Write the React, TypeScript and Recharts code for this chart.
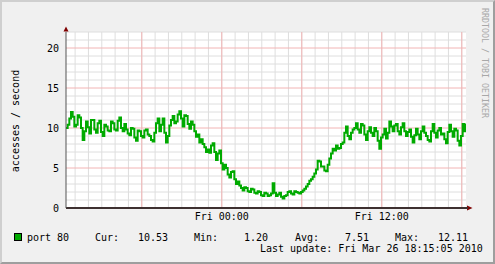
import React from "react";
import { LineChart, Line, XAxis, YAxis, ReferenceLine, ReferenceArea } from "recharts";

// accesses per second, one sample per 7.5 minutes, starting Thu 12:19
const port80 = [
  10.0, 10.4, 11.2, 12.0, 11.4, 10.2, 10.4, 11.6, 11.3, 10.0,
  8.5, 9.6, 10.8, 10.1, 9.3, 11.0, 11.0, 9.8, 9.4, 10.6,
  10.9, 9.5, 9.0, 10.4, 10.2, 9.7, 9.6, 10.8, 10.6, 9.8,
  9.7, 10.9, 11.3, 10.0, 9.6, 10.5, 9.8, 9.3, 9.1, 10.0,
  9.9, 8.8, 8.4, 9.7, 9.6, 9.0, 8.8, 9.7, 9.8, 9.2,
  9.0, 8.5, 8.3, 9.4, 10.6, 11.2, 9.6, 10.4, 11.2, 9.4,
  8.2, 9.0, 10.3, 11.0, 11.5, 10.6, 10.8, 11.7, 12.1, 11.2,
  10.2, 11.6, 11.5, 10.5, 9.9, 10.8, 10.4, 9.6, 8.9, 9.2,
  8.2, 8.6, 8.0, 7.6, 7.0, 7.3, 6.9, 7.8, 8.1, 7.0,
  6.0, 6.8, 7.2, 5.6, 4.8, 5.4, 5.0, 4.2, 3.8, 4.5,
  4.6, 3.6, 3.0, 3.3, 2.8, 2.5, 2.2, 2.6, 2.5, 2.1,
  2.0, 2.4, 2.3, 1.9, 1.8, 2.1, 2.0, 1.6, 1.5, 1.9,
  1.8, 1.5, 1.6, 1.8, 3.1, 1.9, 1.5, 1.7, 1.9, 1.4,
  1.2, 1.5, 1.6, 2.0, 2.1, 1.8, 1.7, 2.1, 2.0, 1.9,
  1.8, 2.0, 2.2, 2.4, 2.7, 3.0, 3.4, 3.6, 3.9, 4.3,
  4.8, 5.9, 5.8, 5.2, 5.2, 4.7, 4.6, 5.4, 6.2, 6.8,
  7.4, 7.2, 7.8, 7.4, 7.5, 8.0, 8.2, 9.4, 10.2, 9.0,
  8.6, 9.4, 9.8, 10.0, 10.6, 9.8, 9.4, 10.5, 10.3, 9.2,
  8.5, 9.6, 10.1, 9.4, 9.0, 10.0, 9.6, 8.4, 7.4, 8.8,
  9.2, 9.9, 8.7, 9.4, 10.8, 10.2, 9.6, 10.3, 10.5, 9.6,
  9.2, 10.1, 10.6, 9.6, 9.0, 9.5, 9.8, 8.9, 8.2, 9.1,
  9.9, 9.2, 8.6, 9.6, 10.2, 9.4, 9.0, 8.5, 8.3, 9.6,
  10.5, 9.4, 8.8, 9.7, 10.0, 9.2, 9.3, 8.6, 8.1, 9.5,
  10.4, 9.6, 8.9, 9.9, 9.7, 8.4, 7.8, 9.0, 10.5, 9.6,
  10.53,
];
const sampleHours = port80.map((_, i) => i * 0.125);

const xTickHours = [11 + 41 / 60, 23 + 41 / 60];
const xTickLabels = ["Fri 00:00", "Fri 12:00"];
const yTicks = [0, 5, 10, 15, 20];
const minorY = [1, 2, 3, 4, 6, 7, 8, 9, 11, 12, 13, 14, 16, 17, 18, 19, 21, 22];
const majorY = [5, 10, 15, 20];
const hourLines = Array.from({ length: 30 }, (_, k) => 41 / 60 + k);
const majorHourLines = [5, 11, 17, 23, 29].map((k) => 41 / 60 + k);

const seriesName = "port 80";
const statLabels = ["Cur:", "Min:", "Avg:", "Max:"];
const statValues = ["10.53", "1.20", "7.51", "12.11"];
const lastUpdate = "Last update: Fri Mar 26 18:15:05 2010";
const yTitle = "accesses / second";
const credit = "RRDTOOL / TOBI OETIKER";

const data = sampleHours.map((h, i) => ({ h, v: port80[i] }));

const FONT = "'DejaVu Sans Mono', monospace";
const GREEN = "#00aa00";

export default function App() {
  const statLabelX = [95, 194, 295, 395];
  const statValueX = [138, 244, 345, 438];
  return (
    <div style={{ position: "absolute", left: 0, top: 0, width: 495, height: 264, background: "#f0f0f0", overflow: "hidden" }}>
      <div
        style={{
          position: "absolute", left: 0, top: 0, width: 495, height: 264, boxSizing: "border-box",
          borderTop: "2px solid #cfcfcf", borderLeft: "2px solid #cfcfcf",
          borderRight: "2px solid #9e9e9e", borderBottom: "2px solid #9e9e9e",
        }}
      />
      <div style={{ position: "absolute", left: 0, top: 0 }}>
        <LineChart width={495} height={264} data={data} margin={{ top: 32, right: 29, bottom: 36, left: 0 }}>
          <XAxis
            dataKey="h"
            type="number"
            domain={[0, 30]}
            ticks={xTickHours}
            tickFormatter={(v: number) => xTickLabels[xTickHours.findIndex((t) => Math.abs(t - v) < 1e-6)] ?? ""}
            tickLine={false}
            tickSize={4}
            tickMargin={1}
            height={20}
            axisLine={{ stroke: "#3d3030", strokeWidth: 2 }}
            tick={{ fontFamily: FONT, fontSize: 10, fill: "#000" }}
            allowDataOverflow
          />
          <YAxis
            type="number"
            domain={[0, 22]}
            ticks={yTicks}
            width={66}
            tickLine={false}
            tickSize={6}
            tickMargin={1}
            axisLine={{ stroke: "#555", strokeWidth: 1 }}
            tick={{ fontFamily: FONT, fontSize: 10, fill: "#000" }}
            allowDataOverflow
          />
          <ReferenceArea x1={0} x2={30} y1={0} y2={22} fill="#ffffff" fillOpacity={1} stroke="none" />
          {hourLines.map((h) => (
            <ReferenceLine key={"vx" + h} x={h} stroke="#dedede" strokeWidth={1} />
          ))}
          {minorY.map((y) => (
            <ReferenceLine key={"hy" + y} y={y} stroke="#dedede" strokeWidth={1} />
          ))}
          {majorHourLines.map((h) => (
            <ReferenceLine key={"mx" + h} x={h} stroke="#f2b4b4" strokeWidth={1} />
          ))}
          {majorY.map((y) => (
            <ReferenceLine key={"my" + y} y={y} stroke="#f2b4b4" strokeWidth={1} />
          ))}
          <Line
            type="stepAfter"
            dataKey="v"
            stroke={GREEN}
            strokeWidth={2}
            dot={false}
            isAnimationActive={false}
          />
        </LineChart>
      </div>
      <svg width={495} height={264} style={{ position: "absolute", left: 0, top: 0, pointerEvents: "none" }}>
        <polygon points="66,26.5 63.5,31.5 68.5,31.5" fill="#7f0000" />
        <polygon points="472.5,208 467,205.5 467,210.5" fill="#7f0000" />
        <line x1={466} y1={208} x2={468} y2={208} stroke="#3d3030" strokeWidth={2} />
        <text
          x={15}
          y={121}
          transform="rotate(-90 15 121)"
          textAnchor="middle"
          dominantBaseline="central"
          fontFamily={FONT}
          fontSize={10}
          fill="#000"
        >
          {yTitle}
        </text>
        <text
          x={485}
          y={63}
          transform="rotate(90 485 63)"
          textAnchor="middle"
          dominantBaseline="central"
          fontFamily={FONT}
          fontSize={8.3}
          fill="#a8a8a8"
        >
          {credit}
        </text>
        <rect x={14.5} y={233.5} width={7} height={7} fill={GREEN} stroke="#000" strokeWidth={1} />
        <text x={27} y={237} dominantBaseline="central" fontFamily={FONT} fontSize={10} fill="#000">
          {seriesName}
        </text>
        {statLabels.map((s, i) => (
          <text key={s} x={statLabelX[i]} y={237} dominantBaseline="central" fontFamily={FONT} fontSize={10} fill="#000">
            {s}
          </text>
        ))}
        {statValues.map((s, i) => (
          <text key={"v" + i} x={statValueX[i]} y={237} dominantBaseline="central" fontFamily={FONT} fontSize={10} fill="#000">
            {s}
          </text>
        ))}
        <text x={260} y={248.5} dominantBaseline="central" fontFamily={FONT} fontSize={10} fill="#000">
          {lastUpdate}
        </text>
      </svg>
    </div>
  );
}
